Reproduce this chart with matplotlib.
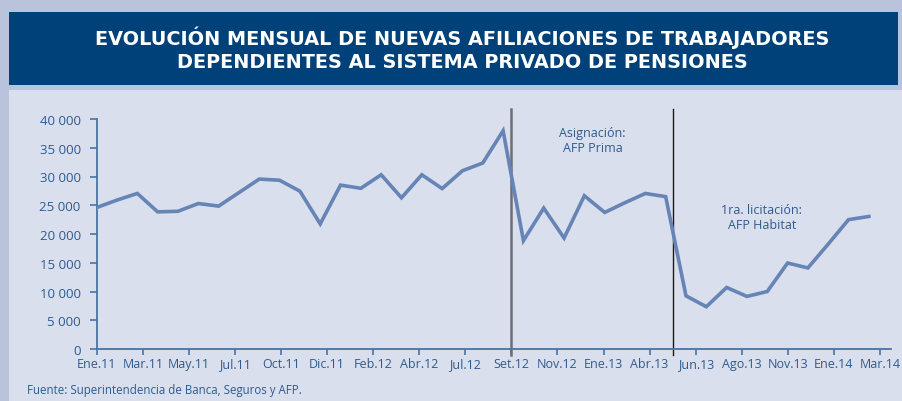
import matplotlib
matplotlib.use("Agg")
import matplotlib.pyplot as plt
from matplotlib.patches import Rectangle
import numpy as np

months = ["Ene.11","Feb.11","Mar.11","Abr.11","May.11","Jun.11","Jul.11","Ago.11","Set.11","Oct.11","Nov.11","Dic.11",
          "Ene.12","Feb.12","Mar.12","Abr.12","May.12","Jun.12","Jul.12","Ago.12","Set.12","Oct.12","Nov.12","Dic.12",
          "Ene.13","Feb.13","Mar.13","Abr.13","May.13","Jun.13","Jul.13","Ago.13","Set.13","Oct.13","Nov.13","Dic.13",
          "Ene.14","Feb.14","Mar.14"]
afiliaciones = [24600, 25900, 27050, 23850, 23950, 25300, 24850, 27200, 29550, 29350, 27450, 21750,
                28500, 27950, 30300, 26300, 30300, 27900, 31000, 32350, 37950, 18850, 24500, 19300,
                26650, 23750, 25450, 27050, 26500, 9250, 7350, 10700, 9150, 10000, 14950, 14100,
                18250, 22500, 23050]
tick_labels = ["Ene.11","Mar.11","May.11","Jul.11","Oct.11","Dic.11","Feb.12","Abr.12","Jul.12",
               "Set.12","Nov.12","Ene.13","Abr.13","Jun.13","Ago.13","Nov.13","Ene.14","Mar.14"]
yticks = [0, 5000, 10000, 15000, 20000, 25000, 30000, 35000, 40000]

W, H = 902, 402
fig = plt.figure(figsize=(W/100, H/100), dpi=100)
fig.patch.set_facecolor("#b9c3dc")

# panel and title band
fig.patches.append(Rectangle((9/W, 0), 1 - 9/W, (H - 91)/H, transform=fig.transFigure,
                             facecolor="#d9dfec", edgecolor="none", zorder=-2))
fig.patches.append(Rectangle((9/W, (H - 86)/H), (898 - 9)/W, 73/H, transform=fig.transFigure,
                             facecolor="#00417a", edgecolor="none", zorder=-2))

title_font = ["DejaVu Sans"]
fig.text(462/W, 1 - 38/H, "EVOLUCIÓN MENSUAL DE NUEVAS AFILIACIONES DE TRABAJADORES",
         ha="center", va="center", color="white", fontsize=13.9, fontweight="bold", family=title_font)
fig.text(462/W, 1 - 63/H, "DEPENDIENTES AL SISTEMA PRIVADO DE PENSIONES",
         ha="center", va="center", color="white", fontsize=13.9, fontweight="bold", family=title_font)

txt = "#2f5b8f"
axc = "#4a73a8"
# axes: x data 0..38, pixel 96.7 at 0 and 20.32 px per step
px0, step = 96.7, 20.32
xmax = (890.7 - px0) / step
left = px0 / W
right = 890.7 / W
ybot = 1 - 350/H
ytop_px = 110
ymax = 40000 * (350 - ytop_px) / 230.0
ax = fig.add_axes([left, ybot, right - left, (350 - ytop_px)/H])
ax.set_zorder(2)
ax.set_facecolor("none")
x = np.arange(len(months))
ax.plot(x, afiliaciones, color="#6684b5", lw=2.6, solid_joinstyle="miter", zorder=3)
ax.set_xlim(0, xmax)
ax.set_ylim(0, ymax)

for s in ["top", "right"]:
    ax.spines[s].set_visible(False)
for s in ["left", "bottom"]:
    ax.spines[s].set_color(axc)
    ax.spines[s].set_linewidth(1.3)
ax.spines["left"].set_bounds(0, 40000)

ax.set_yticks(yticks)
ax.set_yticklabels([f"{v:,}".replace(",", " ") for v in yticks])
tick_pos = [(p - px0)/step for p in np.linspace(96.7, 880, len(tick_labels))]
ax.set_xticks(tick_pos)
ax.set_xticklabels(tick_labels)
ax.tick_params(axis="y", colors=axc, labelcolor=txt, labelsize=9.5, length=5, width=1.2, pad=6.5,
               direction="out")
ax.tick_params(axis="x", colors=axc, labelcolor=txt, labelsize=9, length=4.5, width=1.2, pad=1.5,
               direction="out")
for lab in ax.get_xticklabels() + ax.get_yticklabels():
    lab.set_family(["Open Sans", "DejaVu Sans"])

# event lines
ax.plot([(510.7 - px0)/step]*2, [-1000, ymax], color="#6e6e73", lw=1.8, clip_on=False, zorder=2)
ax.plot([(673.3 - px0)/step]*2, [-1000, ymax], color="#1a1a1a", lw=1.0, clip_on=False, zorder=2)

ax.text((592.7 - px0)/step, 40000*(350-141)/230, "Asignación:\nAFP Prima", ha="center", va="center",
        color=txt, fontsize=9, family=["Open Sans", "DejaVu Sans"], linespacing=1.25)
ax.text((761.7 - px0)/step, 40000*(350-218)/230, "1ra. licitación:\nAFP Habitat", ha="center", va="center",
        color=txt, fontsize=9, family=["Open Sans", "DejaVu Sans"], linespacing=1.25)

fig.text(27/W, 1 - 391/H, "Fuente: Superintendencia de Banca, Seguros y AFP.", ha="left", va="center",
         color=txt, fontsize=8.3, family=["Open Sans", "DejaVu Sans"])

fig.savefig("out.png", dpi=100, facecolor=fig.get_facecolor())
